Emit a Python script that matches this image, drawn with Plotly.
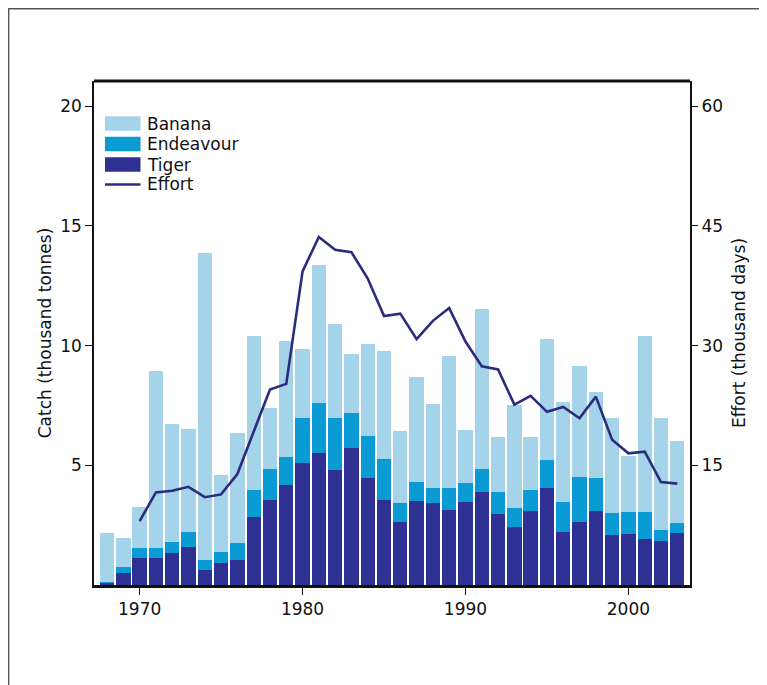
import plotly.graph_objects as go

years = list(range(1968, 2004))
tiger = [0.10, 0.49, 1.11, 1.11, 1.32, 1.60, 0.63, 0.90, 1.04, 2.85,
         3.55, 4.18, 5.08, 5.50, 4.80, 5.71, 4.45, 3.55, 2.62, 3.52,
         3.41, 3.13, 3.48, 3.90, 2.98, 2.41, 3.10, 4.04, 2.20, 2.62,
         3.10, 2.09, 2.13, 1.92, 1.85, 2.16]
endeavour = [0.02, 0.28, 0.42, 0.42, 0.49, 0.63, 0.41, 0.49, 0.70, 1.12,
             1.28, 1.18, 1.91, 2.11, 2.19, 1.49, 1.77, 1.70, 0.79, 0.79,
             0.63, 0.91, 0.77, 0.93, 0.92, 0.79, 0.87, 1.18, 1.28, 1.90,
             1.35, 0.90, 0.93, 1.14, 0.45, 0.42]
banana = [2.04, 1.18, 1.74, 7.41, 4.90, 4.27, 12.81, 3.20, 4.62, 6.44,
          2.57, 4.84, 2.85, 5.75, 3.91, 2.43, 3.83, 4.53, 3.02, 4.36,
          3.50, 5.54, 2.22, 6.69, 2.29, 4.32, 2.22, 5.04, 4.17, 4.62,
          3.62, 3.97, 2.33, 7.34, 4.69, 3.43]
effort_years = list(range(1970, 2004))
effort = [8.0, 11.6, 11.8, 12.3, 11.0, 11.35, 13.9, 19.3, 24.5, 25.2,
          39.3, 43.6, 42.0, 41.7, 38.4, 33.7, 34.0, 30.8, 33.1, 34.7,
          30.5, 27.4, 27.0, 22.6, 23.7, 21.7, 22.3, 20.9, 23.6, 18.2,
          16.5, 16.7, 12.9, 12.7]

left_ticks = [5, 10, 15, 20]
right_ticks = [15, 30, 45, 60]
x_ticks = [1970, 1980, 1990, 2000]
legend_names = ["Banana", "Endeavour", "Tiger", "Effort"]

C_BANANA = "#a5d3ea"
C_ENDEAV = "#0b9bd4"
C_TIGER = "#2e3192"
C_LINE = "#2c2c7c"
FONT = "DejaVu Sans"
FS = 17

W, H = 767, 685
ML, MT = 86, 73
PW, PH = 596, 504
MR = W - ML - PW
MB = H - MT - PH


def px(x):
    return (x - ML) / PW


def py(y):
    return 1 - (y - MT) / PH


fig = go.Figure()
fig.add_trace(go.Bar(x=years, y=tiger, name="Tiger", marker=dict(color=C_TIGER, line=dict(width=0))))
fig.add_trace(go.Bar(x=years, y=endeavour, name="Endeavour", marker=dict(color=C_ENDEAV, line=dict(width=0))))
fig.add_trace(go.Bar(x=years, y=banana, name="Banana", marker=dict(color=C_BANANA, line=dict(width=0))))
fig.add_trace(go.Scatter(x=effort_years, y=effort, name="Effort", mode="lines", yaxis="y2",
                         line=dict(color=C_LINE, width=2.6)))

# manual legend (figure pixel coordinates converted to paper)
swatch_colors = [C_BANANA, C_ENDEAV, C_TIGER]
shapes = []
annotations = []
centers = [115.5, 136.0, 156.5, 176.5]
for i, name in enumerate(legend_names):
    cy = centers[i]
    if i < 3:
        shapes.append(dict(type="rect", xref="paper", yref="paper",
                           x0=px(97), x1=px(132.5), y0=py(cy - 7.2), y1=py(cy + 7.2),
                           fillcolor=swatch_colors[i], line=dict(width=0)))
    else:
        shapes.append(dict(type="line", xref="paper", yref="paper",
                           x0=px(97), x1=px(132.5), y0=py(cy), y1=py(cy),
                           line=dict(color=C_LINE, width=2.6)))
    annotations.append(dict(text=name, xref="paper", yref="paper", x=px(137), y=py(cy),
                            xanchor="left", yanchor="middle", showarrow=False,
                            font=dict(family=FONT, size=FS, color="#111")))

shapes.append(dict(type="line", xref="paper", yref="paper", x0=0, x1=1, y0=1, y1=1,
                   line=dict(color="#111", width=3)))
shapes.append(dict(type="rect", xref="paper", yref="paper",
                   x0=px(0.7), x1=px(W + 20), y0=py(H + 20), y1=py(0.7),
                   line=dict(color="#555", width=1.4), fillcolor="rgba(0,0,0,0)", layer="below"))

fig.update_layout(
    width=W, height=H,
    margin=dict(l=ML, r=MR, t=MT, b=MB),
    paper_bgcolor="white", plot_bgcolor="white",
    barmode="stack", bargap=0.12,
    font=dict(family=FONT, size=FS, color="#111"),
    showlegend=False,
    xaxis=dict(range=[1967.2, 2003.78], tickvals=x_ticks, ticks="outside", ticklen=7, tickwidth=1.2,
               tickcolor="#111", showline=True, linecolor="#111", linewidth=3, showgrid=False,
               zeroline=False, tickfont=dict(size=FS)),
    yaxis=dict(range=[0, 21.05], tickvals=left_ticks, ticks="outside", ticklen=7, tickwidth=1.2,
               tickcolor="#111", showline=True, linecolor="#111", linewidth=1.5, showgrid=False,
               zeroline=False, tickfont=dict(size=FS),
               title=dict(text="Catch (thousand tonnes)", font=dict(size=FS), standoff=4)),
    yaxis2=dict(range=[0, 63.15], tickvals=right_ticks, overlaying="y", side="right", ticks="outside",
                ticklen=6, tickwidth=1.2, tickcolor="#111", showline=True, linecolor="#111", linewidth=2,
                showgrid=False, zeroline=False, tickfont=dict(size=FS),
                title=dict(text="Effort (thousand days)", font=dict(size=FS), standoff=11)),
    shapes=shapes,
    annotations=annotations,
)

fig.write_html("out.html")
